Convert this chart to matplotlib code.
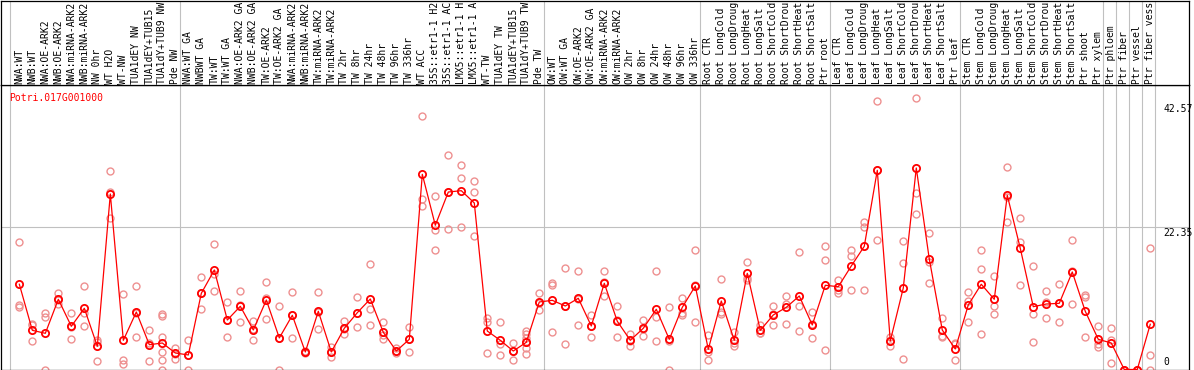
import matplotlib.pyplot as plt
from matplotlib.transforms import blended_transform_factory

# sample labels (top header), as far as they show in the header strip
labels = [
    'NWA:WT', 'NWB:WT', 'NWA:OE-ARK2', 'NWB:OE-ARK2', 'NWA:miRNA-ARK2', 'NWB:miRNA-ARK2',
    'NW 0hr', 'WT H2O', 'WT-NW', 'TUA1dEY NW', 'TUA1dEY+TUB15', 'TUA1dY+TUB9 NW', 'Pde NW',
    'NWA:WT GA', 'NWBWT GA', 'TW:WT', 'TW:WT GA', 'NWA:OE-ARK2 GA', 'NWB:OE-ARK2 GA',
    'TW:OE-ARK2', 'TW:OE-ARK2 GA', 'NWA:miRNA-ARK2', 'NWB:miRNA-ARK2', 'TW:miRNA-ARK2',
    'TW:miRNA-ARK2', 'TW 2hr', 'TW 8hr', 'TW 24hr', 'TW 48hr', 'TW 96hr', 'TW 336hr',
    'WT ACC', '35S::etr1-1 H2', '35S::etr1-1 AC', 'LMX5::etr1-1 H', 'LMX5::etr1-1 A',
    'WT-TW', 'TUA1dEY TW', 'TUA1dEY+TUB15', 'TUA1dY+TUB9 TW', 'Pde TW',
    'OW:WT', 'OW:WT GA', 'OW:OE-ARK2', 'OW:OE-ARK2 GA', 'OW:miRNA-ARK2', 'OW:miRNA-ARK2',
    'OW 2hr', 'OW 8hr', 'OW 24hr', 'OW 48hr', 'OW 96hr', 'OW 336hr',
    'Root CTR', 'Root LongCold', 'Root LongDroug', 'Root LongHeat', 'Root LongSalt',
    'Root ShortCold', 'Root ShortDrou', 'Root ShortHeat', 'Root ShortSalt', 'Ptr root',
    'Leaf CTR', 'Leaf LongCold', 'Leaf LongDroug', 'Leaf LongHeat', 'Leaf LongSalt',
    'Leaf ShortCold', 'Leaf ShortDrou', 'Leaf ShortHeat', 'Leaf ShortSalt', 'Ptr leaf',
    'Stem CTR', 'Stem LongCold', 'Stem LongDroug', 'Stem LongHeat', 'Stem LongSalt',
    'Stem ShortCold', 'Stem ShortDrou', 'Stem ShortHeat', 'Stem ShortSalt', 'Ptr shoot',
    'Ptr xylem', 'Ptr phloem', 'Ptr fiber', 'Ptr vessel', 'Ptr fiber vess',
]

# mean expression per sample (red line)
means = [
    13.38, 6.15, 5.68, 11.02, 6.78, 9.61, 3.64, 27.55, 4.58, 9.03,
    3.89, 4.16, 2.59, 2.28, 11.96, 15.62, 7.77, 9.92, 6.20, 10.91,
    4.95, 8.51, 2.75, 9.14, 2.75, 6.47, 8.92, 11.07, 5.84, 2.90,
    4.74, 30.64, 22.64, 27.86, 28.07, 26.14, 6.04, 4.58, 2.90, 4.27,
    10.60, 10.86, 9.97, 11.18, 6.83, 13.53, 7.57, 4.58, 6.47, 9.45,
    4.74, 9.76, 13.11, 3.17, 10.75, 4.58, 15.10, 6.15, 8.56, 9.76,
    11.54, 6.99, 13.22, 13.00, 16.25, 19.34, 31.27, 4.47, 12.79, 31.63,
    17.35, 6.20, 3.22, 10.13, 13.38, 11.02, 27.35, 19.03, 9.86, 10.28,
    10.39, 15.31, 9.14, 4.74, 4.16, 0, 0, 7.10,
]

# replicate values per sample (pale circles)
reps = [
    [20.02, 10.13, 9.86], [7.2, 7.0, 4.43], [8.92, 8.19, 0], [11.96, 10.24, 10.86],
    [8.92, 6.67, 4.79], [13.11, 8.92, 6.78], [4.68, 4.32, 1.29], [31.11, 27.8, 23.74],
    [11.81, 1.44, 0.91], [13.11, 8.93, 5.05], [6.15, 4.2, 1.29],
    [8.71, 8.45, 5.05, 2.79, 1.44, 0], [3.38, 2.39, 1.65], [4.58, 2.2, 0],
    [14.47, 11.96, 9.45], [19.70, 14.95, 12.28], [10.55, 7.7, 5.05], [12.28, 10.1, 7.41],
    [7.61, 6.4, 4.58], [13.69, 11.2, 7.88], [9.92, 4.9, 0], [12.12, 8.5, 4.95],
    [2.9, 2.75, 2.6], [12.12, 9.0, 6.31], [3.49, 2.75, 2.01], [7.61, 6.3, 5.53],
    [11.38, 8.8, 6.62], [16.56, 9.45, 6.99], [7.41, 5.4, 4.74], [3.33, 2.85, 2.54],
    [6.62, 4.85, 2.75], [39.75, 26.77, 25.67], [27.24, 21.9, 18.76], [33.67, 27.9, 22.01],
    [32.1, 30.02, 22.37], [29.54, 27.86, 20.91], [8.04, 7.41, 2.59], [7.41, 4.0, 2.28],
    [4.16, 2.90, 1.44], [6.04, 5.53, 4.90, 4.36, 3.42, 2.48], [11.96, 10.5, 9.34],
    [13.63, 13.27, 5.84], [15.93, 10.0, 4.0], [15.51, 11.0, 6.99], [8.56, 6.9, 5.05],
    [15.42, 13.7, 11.49], [9.92, 7.7, 5.05], [5.57, 4.5, 3.64], [7.72, 6.4, 5.26],
    [15.42, 8.19, 4.52], [9.76, 4.4, 0], [11.18, 8.82, 8.56], [18.71, 13.2, 7.41],
    [5.46, 2.79, 1.44], [14.21, 9.07, 8.76], [5.93, 4.2, 3.64], [16.88, 14.32, 14.05],
    [6.99, 5.8, 5.68], [9.97, 8.7, 6.99], [11.54, 10.33, 7.14], [18.45, 9.97, 6.0],
    [8.98, 7.1, 4.90], [19.34, 17.19, 3.01], [14.05, 12.48, 11.96], [18.76, 17.82, 12.48],
    [23.2, 22.32, 12.48], [42.15, 31.3, 20.28], [5.05, 4.47, 3.74], [20.17, 16.67, 1.6],
    [42.57, 27.76, 24.41], [21.38, 16.92, 13.53], [8.04, 5.31, 5.05], [4.2, 4.05, 1.44],
    [12.17, 10.75, 7.41], [18.76, 15.73, 5.57], [14.68, 9.92, 8.67], [31.74, 27.08, 23.11],
    [23.74, 20.06, 13.27], [16.2, 8.76, 4.32], [12.28, 10.6, 8.04], [13.38, 10.4, 7.41],
    [20.33, 15.4, 10.24], [11.7, 11.33, 5.05], [6.83, 4.05, 3.53], [6.51, 4.63, 1.02],
    [0, 0, 0], [0, 0, 0], [19.03, 2.23, 0],
]

# last sample index of each group (gray separators)
group_ends = [12, 40, 52, 62, 72, 83, 84, 85, 86, 87]
gene = 'Potri.017G001000'
scale_labels = ['42.57', '22.35', '0']
grid_value = 22.35

W, H = 1194, 370
plt.rcParams['font.family'] = 'DejaVu Sans Mono'
plt.rcParams['font.size'] = 7.0

fig = plt.figure(figsize=(W / 100, H / 100), dpi=100)


def box(x0, y0, x1, y1):
    return [x0 / W, 1 - y1 / H, (x1 - x0) / W, (y1 - y0) / H]


ax = fig.add_axes(box(1, 85, 1189, 369.5))
hx = fig.add_axes(box(1, 0.5, 1189, 85), sharex=ax)

x = list(range(len(labels)))
ax.set_xlim(-1.41, 89.98)
ax.set_ylim(0, 44.66)

for a in (ax, hx):
    a.set_xticks([])
    a.set_yticks([])
    for s in a.spines.values():
        s.set_color('black')
        s.set_linewidth(0.9)
    a.axvline(-0.72, color='#c0c0c0', lw=0.8, zorder=0)
    for g in group_ends:
        a.axvline(g + 0.36, color='#c0c0c0', lw=0.8, zorder=0)

ax.axhline(grid_value, color='#c0c0c0', lw=0.8, zorder=0)

# replicates
for i, vals in enumerate(reps):
    ax.plot([i] * len(vals), vals, 'o', ls='none', ms=5, mfc='none',
            mec='#ee9090', mew=1.0, zorder=2)

# mean line
ax.plot(x, means, '-o', color='red', lw=0.9, ms=5.2, mfc='none',
        mec='red', mew=1.3, zorder=3)

# header labels
tr = blended_transform_factory(hx.transData, hx.transAxes)
for i, lab in enumerate(labels):
    hx.text(i, 0.015, lab, rotation=90, ha='center', va='bottom',
            transform=tr, clip_on=True)

fig.text(9 / W, 1 - 101 / H, gene, color='red', va='baseline')
for lab, yb in zip(scale_labels, [112, 236, 365]):
    fig.text(1163 / W, 1 - yb / H, lab, va='baseline')

fig.savefig('out.png', dpi=100)
